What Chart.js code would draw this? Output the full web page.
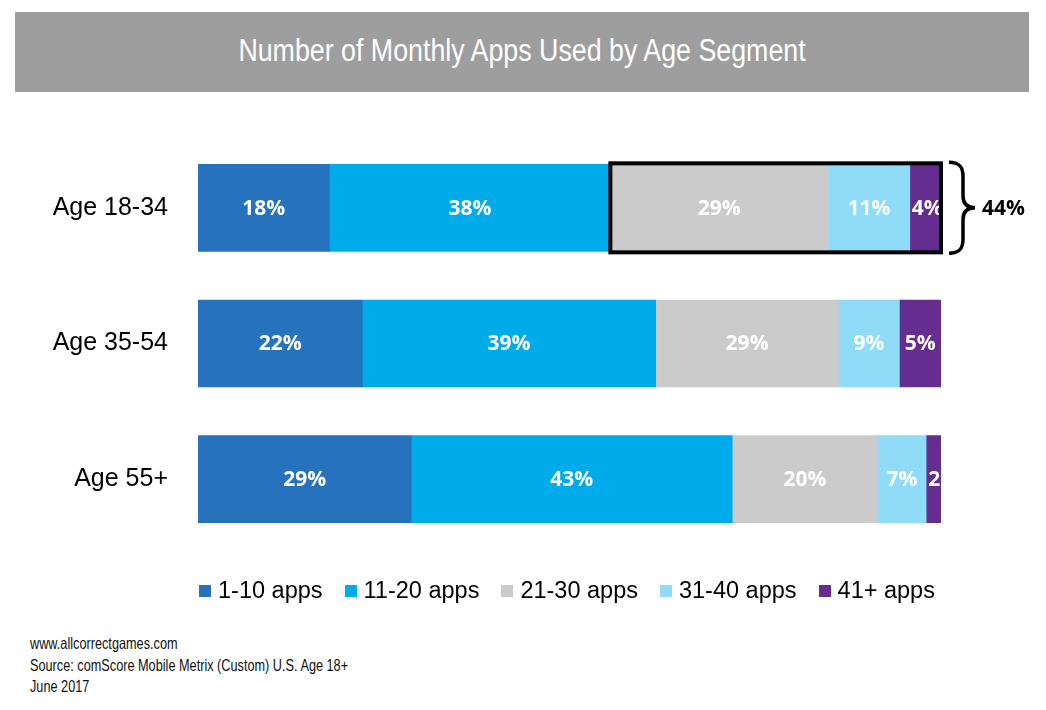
<!DOCTYPE html>
<html>
<head>
<meta charset="utf-8">
<script src="https://cdn.jsdelivr.net/npm/chart.js@4.4.0/dist/chart.umd.min.js"></script>
<style>
  body { margin: 0; background: #fff; width: 1046px; height: 710px; position: relative; overflow: hidden; }
  #banner {
    position: absolute; left: 15px; top: 12px; width: 1014px; height: 80px;
    background: #9e9e9e;
  }
  #banner span {
    position: absolute; left: 0; width: 1014px; top: 0; line-height: 78px; text-align: center;
    color: #fff; font-family: "Liberation Sans", Arial, sans-serif; font-size: 31px;
    transform: scaleX(0.864); transform-origin: 50% 50%;
  }
  #appsChart { position: absolute; left: 0; top: 95px; }
  #legend {
    position: absolute; left: 188px; top: 577px; width: 743px; text-align: center;
    font-family: "Liberation Sans", Arial, sans-serif; font-size: 23.5px; color: #000; white-space: nowrap;
  }
  #legend .item { display: inline-block; margin: 0 11px; }
  #legend .box { display: inline-block; width: 12px; height: 12px; margin-right: 7px; vertical-align: 1px; }
  #footer {
    position: absolute; left: 30px; top: 633px;
    font-family: "Liberation Sans", Arial, sans-serif;
    font-size: 16.5px; line-height: 21.5px; color: #111; white-space: nowrap;
    transform: scaleX(0.77); transform-origin: 0 0;
  }
</style>
</head>
<body>
<div id="banner"><span>Number of Monthly Apps Used by Age Segment</span></div>
<canvas id="appsChart" width="1046" height="497"></canvas>
<div id="legend"></div>
<div id="footer">www.allcorrectgames.com<br>Source: comScore Mobile Metrix (Custom) U.S. Age 18+<br>June 2017</div>

<script>
// ── data ------------------------------------------------------------
const ageGroups = ['Age 18-34', 'Age 35-54', 'Age 55+'];
const bucketNames = ['1-10 apps', '11-20 apps', '21-30 apps', '31-40 apps', '41+ apps'];

// segment lengths as drawn (share of each bar)
const apps1to10  = [17.7, 22.1, 28.7];
const apps11to20 = [37.8, 39.5, 43.2];
const apps21to30 = [29.3, 24.6, 19.6];
const apps31to40 = [11.0,  8.2,  6.5];
const apps41plus = [ 4.2,  5.6,  2.0];

// labels printed on the segments
const label1to10  = ['18%', '22%', '29%'];
const label11to20 = ['38%', '39%', '43%'];
const label21to30 = ['29%', '29%', '20%'];
const label31to40 = ['11%', '9%', '7%'];
const label41plus = ['4%', '5%', '2%'];

const bracketLabel = '44%';

const colors = ['#2672bc', '#00abe9', '#cbcbcb', '#8fdcf9', '#662d91'];

const seriesValues = [apps1to10, apps11to20, apps21to30, apps31to40, apps41plus];
const seriesLabels = [label1to10, label11to20, label21to30, label31to40, label41plus];

const labelFont = 'bold 21px "Open Sans", "Noto Sans", sans-serif';

// white % labels inside each segment, clipped to the segment
const segmentLabels = {
  id: 'segmentLabels',
  afterDatasetsDraw(chart) {
    const ctx = chart.ctx;
    chart.data.datasets.forEach((ds, di) => {
      chart.getDatasetMeta(di).data.forEach((bar, i) => {
        const left = Math.min(bar.base, bar.x);
        const w = Math.abs(bar.x - bar.base);
        const h = bar.height;
        const txt = seriesLabels[di][i];
        ctx.save();
        ctx.beginPath();
        ctx.rect(left, bar.y - h / 2, w, h);
        ctx.clip();
        ctx.fillStyle = '#ffffff';
        ctx.font = labelFont;
        ctx.textBaseline = 'middle';
        if (ctx.measureText(txt).width > w - 2) {
          ctx.textAlign = 'left';
          ctx.fillText(txt, left + 2, bar.y + 1);
        } else {
          ctx.textAlign = 'center';
          ctx.fillText(txt, left + w / 2, bar.y + 1);
        }
        ctx.restore();
      });
    });
  }
};

// black box round the 21+ segments of the first bar, plus the brace and total
const highlight = {
  id: 'highlight',
  afterDraw(chart) {
    const ctx = chart.ctx;
    const first = chart.getDatasetMeta(2).data[0];
    const last = chart.getDatasetMeta(4).data[0];
    const top = first.y - first.height / 2;
    const bottom = first.y + first.height / 2;
    const x0 = first.base;
    const x1 = last.x;

    ctx.save();
    ctx.strokeStyle = '#000';
    ctx.lineWidth = 4;
    ctx.strokeRect(x0, top - 1, x1 - x0, bottom - top + 2);

    // curly brace
    const bx = x1 + 8, mid = first.y, t = top - 2, b = bottom + 2;
    ctx.lineWidth = 3.5;
    ctx.beginPath();
    ctx.moveTo(bx, t);
    ctx.bezierCurveTo(bx + 10, t, bx + 14, t + 4, bx + 14, t + 14);
    ctx.lineTo(bx + 14, mid - 12);
    ctx.bezierCurveTo(bx + 14, mid - 4, bx + 18, mid, bx + 26, mid);
    ctx.bezierCurveTo(bx + 18, mid, bx + 14, mid + 4, bx + 14, mid + 12);
    ctx.lineTo(bx + 14, b - 14);
    ctx.bezierCurveTo(bx + 14, b - 4, bx + 10, b, bx, b);
    ctx.stroke();

    ctx.fillStyle = '#000';
    ctx.font = labelFont;
    ctx.textAlign = 'left';
    ctx.textBaseline = 'middle';
    ctx.fillText(bracketLabel, bx + 33, mid + 1);
    ctx.restore();
  }
};

function buildLegend(chart) {
  const box = document.getElementById('legend');
  box.innerHTML = chart.data.datasets.map(ds =>
    `<span class="item"><span class="box" style="background:${ds.backgroundColor}"></span>${ds.label}</span>`
  ).join('');
}

function drawAppsChart() {
  const ctx = document.getElementById('appsChart').getContext('2d');

  // note: the y axis keeps ~45px above and below the bars on its own
  const chart = new Chart(ctx, {
    type: 'bar',
    data: {
      labels: ageGroups,
      datasets: bucketNames.map((name, k) => ({
        label: name,
        data: seriesValues[k],
        backgroundColor: colors[k],
        borderWidth: 0,
        barThickness: 87,
      }))
    },
    options: {
      indexAxis: 'y',
      responsive: false,
      animation: false,
      layout: { padding: { top: 0, right: 105, left: 0, bottom: 0 } },
      plugins: {
        legend: { display: false },
        tooltip: { enabled: false }
      },
      scales: {
        x: {
          stacked: true,
          min: 0,
          max: 100,
          display: false,
        },
        y: {
          stacked: true,
          grid: { display: false, drawTicks: false },
          border: { display: false },
          ticks: {
            color: '#000',
            padding: 30,
            font: { family: '"Liberation Sans", Arial, sans-serif', size: 25 }
          },
          afterFit: (scale) => { scale.width = 198; }
        }
      }
    },
    plugins: [segmentLabels, highlight]
  });

  buildLegend(chart);
}

window.addEventListener('DOMContentLoaded', () => {
  drawAppsChart();
});
</script>
</body>
</html>
